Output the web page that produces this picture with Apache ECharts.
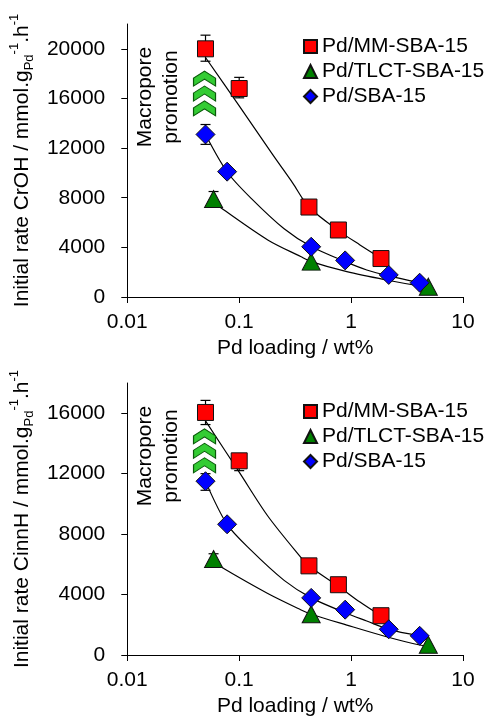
<!DOCTYPE html>
<html><head><meta charset="utf-8">
<script src="https://cdn.jsdelivr.net/npm/echarts@6/dist/echarts.min.js"></script>
<style>html,body{margin:0;padding:0;background:#fff}#c{width:496px;height:720px}</style>
</head><body><div id="c"></div>
<script>
// ---------- data ----------
const seriesNames = ['Pd/MM-SBA-15', 'Pd/TLCT-SBA-15', 'Pd/SBA-15'];
const xTicks = [0.01, 0.1, 1, 10];
const yTicksTop = [0, 4000, 8000, 12000, 16000, 20000];
const yTicksBottom = [0, 4000, 8000, 12000, 16000];

// top panel (CrOH)
const redTop   = [[0.05, 20000], [0.1, 16800], [0.42, 7250], [0.77, 5400], [1.85, 3100]];
const greenTop = [[0.059, 7900], [0.44, 2850], [4.9, 830]];
const blueTop  = [[0.05, 13100], [0.078, 10100], [0.44, 4050], [0.885, 2950], [2.17, 1780], [4.1, 1150]];
const redFitTop   = [[0.05, 19300], [0.1, 15400], [0.2, 11450], [0.3, 9200], [0.42, 7250], [0.77, 5350], [1.2, 4200], [1.85, 3130]];
const greenFitTop = [[0.062, 7500], [0.069, 7170], [0.18, 4600], [0.354, 3260], [0.44, 2850], [0.916, 2040], [2.07, 1370], [4.1, 890], [4.9, 830]];
const blueFitTop  = [[0.05, 13090], [0.078, 10075], [0.128, 7950], [0.252, 5500], [0.44, 4065], [0.885, 2850], [1.38, 2180], [2.17, 1700], [4.1, 1155]];
const errTop = [[0.05, 19000, 21100], [0.1, 16050, 17700], [0.05, 12300, 13900], [0.059, 7300, 8500]];
const chevronTop = [[0.049, 17600], [0.049, 16400], [0.049, 15200]];

// bottom panel (CinnH)
const redBot   = [[0.05, 16050], [0.1, 12850], [0.42, 5900], [0.77, 4650], [1.85, 2600]];
const greenBot = [[0.059, 6350], [0.44, 2700], [4.9, 680]];
const blueBot  = [[0.05, 11500], [0.078, 8650], [0.44, 3780], [0.885, 3000], [2.17, 1700], [4.1, 1270]];
const redFitBot   = [[0.05, 15490], [0.1, 12100], [0.18, 9200], [0.354, 6480], [0.42, 5890], [0.77, 4550], [1.2, 3500], [1.85, 2590]];
const greenFitBot = [[0.062, 6100], [0.069, 5820], [0.18, 4070], [0.354, 3000], [0.44, 2700], [0.916, 1980], [2.07, 1210], [4.1, 660], [4.9, 620]];
const blueFitBot  = [[0.05, 11490], [0.078, 8640], [0.128, 6920], [0.252, 4940], [0.44, 3780], [0.885, 2800], [1.38, 2250], [2.17, 1700], [4.1, 1270]];
const errBot = [[0.05, 15250, 16850], [0.1, 12200, 13300], [0.05, 10900, 12000], [0.059, 6000, 6700]];
const chevronBot = [[0.049, 14470], [0.049, 13520], [0.049, 12560]];

// ---------- styles ----------
const FONT = 'Liberation Sans, Arial, sans-serif';
const colors = ['#FF0000', '#008000', '#0000FF'];
const symbols = ['rect', 'triangle', 'diamond'];
const sizes = [16, [18, 17], 19];
const chevronPath = 'path://M0,7 L11,0 L22,7 L22,15 L11,8 L0,15 Z';

function yName(word) {
  return '{t|Initial rate ' + word + ' / mmol.g}{sub|Pd}{sup|-1}{t|.h}{sup|-1}';
}
const nameRich = {
  t: {fontSize: 21, fontFamily: FONT, color: '#000', lineHeight: 28},
  sub: {fontSize: 13, fontFamily: FONT, color: '#000', lineHeight: 13, verticalAlign: 'bottom'},
  sup: {fontSize: 13, fontFamily: FONT, color: '#000', lineHeight: 13, verticalAlign: 'top'}
};

function xAxis(idx) {
  return {
    type: 'log', logBase: 10, min: 0.01, max: 10, gridIndex: idx,
    axisLine: {show: true, onZero: false, lineStyle: {color: '#000', width: 1}},
    axisTick: {show: true, length: 6, lineStyle: {color: '#000'}},
    minorTick: {show: false},
    splitLine: {show: false},
    axisLabel: {
      fontSize: 21, fontFamily: FONT, color: '#000', margin: 15,
      formatter: function (v) {
        let best = xTicks[0];
        xTicks.forEach(t => { if (Math.abs(Math.log10(t) - Math.log10(v)) < Math.abs(Math.log10(best) - Math.log10(v))) best = t; });
        return String(best);
      }
    },
    name: 'Pd loading / wt%', nameLocation: 'middle', nameGap: 41,
    nameTextStyle: {fontSize: 21, fontFamily: FONT, color: '#000'}
  };
}
function yAxis(idx, max, ticks, word) {
  return {
    type: 'value', gridIndex: idx, min: 0, max: max, interval: 4000,
    axisLine: {show: true, onZero: false, lineStyle: {color: '#000', width: 1}},
    axisTick: {show: true, length: 6, customValues: ticks, lineStyle: {color: '#000'}},
    axisLabel: {customValues: ticks, fontSize: 21, fontFamily: FONT, color: '#000', margin: 22,
      formatter: function (v) { return String(v); }},
    splitLine: {show: false},
    name: yName(word), nameLocation: 'middle', nameGap: 87, nameRotate: 90,
    nameTextStyle: {rich: nameRich}
  };
}

const series = [];
function addPanel(idx, pts, fits, errs, chev) {
  fits.forEach((d, i) => series.push({
    type: 'line', name: 'fit' + idx + '_' + i, xAxisIndex: idx, yAxisIndex: idx,
    data: d, smooth: 0.3, showSymbol: false, symbol: 'none', silent: true,
    lineStyle: {color: '#000', width: 1.2}, z: 2
  }));
  series.push({
    type: 'custom', name: 'err' + idx, xAxisIndex: idx, yAxisIndex: idx,
    data: errs, encode: {x: 0, y: [1, 2]}, z: 3, silent: true,
    renderItem: function (params, api) {
      const x = api.value(0), lo = api.value(1), hi = api.value(2);
      const a = api.coord([x, lo]), b = api.coord([x, hi]);
      const w = 5, st = {stroke: '#000', lineWidth: 1.2};
      return {type: 'group', children: [
        {type: 'line', shape: {x1: a[0], y1: a[1], x2: b[0], y2: b[1]}, style: st},
        {type: 'line', shape: {x1: a[0] - w, y1: a[1], x2: a[0] + w, y2: a[1]}, style: st},
        {type: 'line', shape: {x1: b[0] - w, y1: b[1], x2: b[0] + w, y2: b[1]}, style: st}
      ]};
    }
  });
  pts.forEach((d, i) => series.push({
    type: 'scatter', name: seriesNames[i], xAxisIndex: idx, yAxisIndex: idx,
    data: d, symbol: symbols[i], symbolSize: sizes[i],
    itemStyle: {color: colors[i], borderColor: '#111', borderWidth: 1, opacity: 1}, z: 5
  }));
  series.push({
    type: 'scatter', name: 'chev' + idx, xAxisIndex: idx, yAxisIndex: idx,
    data: chev, symbol: chevronPath, symbolSize: [22, 15], silent: true,
    itemStyle: {color: '#33CC33', borderColor: '#0a5a0a', borderWidth: 1, opacity: 1}, z: 4
  });
}
addPanel(0, [redTop, greenTop, blueTop], [redFitTop, greenFitTop, blueFitTop], errTop, chevronTop);
addPanel(1, [redBot, greenBot, blueBot], [redFitBot, greenFitBot, blueFitBot], errBot, chevronBot);

function legend(top) {
  return {
    data: seriesNames, orient: 'vertical', left: 303, top: top, padding: 0,
    itemWidth: 13, itemHeight: 13, itemGap: 4, selectedMode: false,
    textStyle: {fontSize: 21, fontFamily: FONT, color: '#000'}
  };
}

const option = {
  animation: false,
  backgroundColor: '#fff',
  grid: [
    {left: 125, top: 24, width: 338, height: 273},
    {left: 125, top: 383, width: 338, height: 272}
  ],
  xAxis: [xAxis(0), xAxis(1)],
  yAxis: [yAxis(0, 22000, yTicksTop, 'CrOH'), yAxis(1, 18000, yTicksBottom, 'CinnH')],
  legend: [legend(36), legend(401)],
  graphic: [
    {type: 'text', x: 158, y: 97, rotation: Math.PI / 2,
     style: {text: 'Macropore\npromotion', font: '21px ' + FONT, fill: '#000', align: 'center', verticalAlign: 'middle', lineHeight: 26}},
    {type: 'text', x: 158, y: 456, rotation: Math.PI / 2,
     style: {text: 'Macropore\npromotion', font: '21px ' + FONT, fill: '#000', align: 'center', verticalAlign: 'middle', lineHeight: 26}}
  ],
  series: series
};
const chart = echarts.init(document.getElementById('c'), null, {renderer: 'canvas'});
chart.setOption(option);
</script>
</body></html>
